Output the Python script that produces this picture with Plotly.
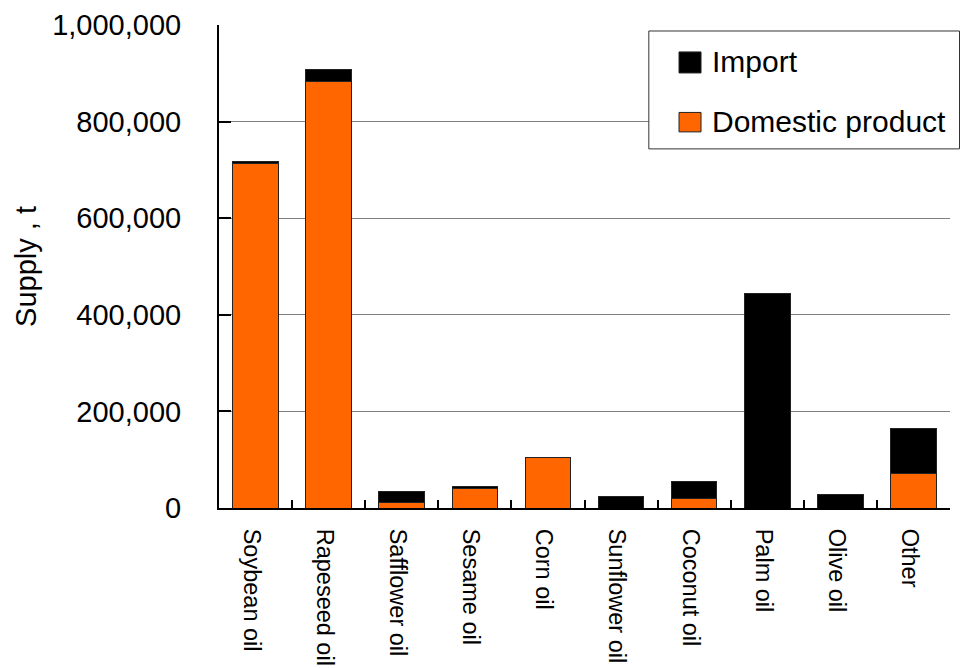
import plotly.graph_objects as go

# Edible oil supply by type (tonnes)
categories = ["Soybean oil", "Rapeseed oil", "Safflower oil", "Sesame oil", "Corn oil",
              "Sunflower oil", "Coconut oil", "Palm oil", "Olive oil", "Other"]
domestic = [713000, 882000, 12000, 40000, 105000, 0, 20000, 0, 0, 72000]
imports = [4000, 26000, 22000, 5000, 0, 23000, 34000, 445000, 28000, 93000]

y_ticks = [0, 200000, 400000, 600000, 800000, 1000000]
y_tick_text = ["0", "200,000", "400,000", "600,000", "800,000", "1,000,000"]

series_names = ["Import", "Domestic product"]
series_colors = ["#000000", "#FF6600"]

FONT = "Liberation Sans, Arial, sans-serif"
OUTLINE = "#222222"

fig = go.Figure()
fig.add_trace(go.Bar(
    x=categories, y=domestic, name=series_names[1], showlegend=False,
    marker=dict(color=series_colors[1], line=dict(color=OUTLINE, width=1)),
))
fig.add_trace(go.Bar(
    x=categories, y=imports, name=series_names[0], showlegend=False,
    marker=dict(color=series_colors[0], line=dict(color=OUTLINE, width=1)),
))

# Boxed legend in the upper-right corner (paper coordinates)
shapes = [dict(type="rect", xref="paper", yref="paper",
               x0=0.588, x1=1.013, y0=0.7435, y1=0.9876,
               line=dict(color="#333333", width=1), fillcolor="white", layer="above")]
annotations = []
rows = [(0.9007, 0.9442, 0.9235), (0.7787, 0.8190, 0.7994)]
for name, color, (sy0, sy1, ty) in zip(series_names, series_colors, rows):
    shapes.append(dict(type="rect", xref="paper", yref="paper",
                       x0=0.6293, x1=0.6594, y0=sy0, y1=sy1,
                       line=dict(color=OUTLINE, width=1), fillcolor=color, layer="above"))
    annotations.append(dict(xref="paper", yref="paper", x=0.6717, y=ty,
                            xanchor="left", yanchor="middle", showarrow=False,
                            text=name, font=dict(size=30, family=FONT, color="black")))

fig.update_layout(
    width=960, height=668,
    barmode="stack", bargap=0.375,
    paper_bgcolor="white", plot_bgcolor="white",
    margin=dict(l=219, r=10, t=25, b=160, autoexpand=False),
    font=dict(family=FONT, color="black", size=29),
    showlegend=False,
    shapes=shapes, annotations=annotations,
    xaxis=dict(
        type="category", tickangle=90, tickfont=dict(size=23.5, family=FONT),
        showline=True, linecolor="black", linewidth=2,
        ticks="inside", tickson="boundaries", ticklen=8, tickcolor="black", tickwidth=2,
        showgrid=False, ticklabelstandoff=14, ticklabelshift=-4,
    ),
    yaxis=dict(
        range=[0, 1000000], tickvals=y_ticks, ticktext=y_tick_text,
        showline=True, linecolor="black", linewidth=2,
        ticks="inside", ticklen=12, tickcolor="black", tickwidth=2,
        showgrid=True, gridcolor="#808080", gridwidth=1,
        tickfont=dict(size=29, family=FONT), ticklabelstandoff=30,
        title=dict(text="Supply , t", font=dict(size=29, family=FONT), standoff=7),
        zeroline=False,
    ),
)

fig.write_html("out.html")
